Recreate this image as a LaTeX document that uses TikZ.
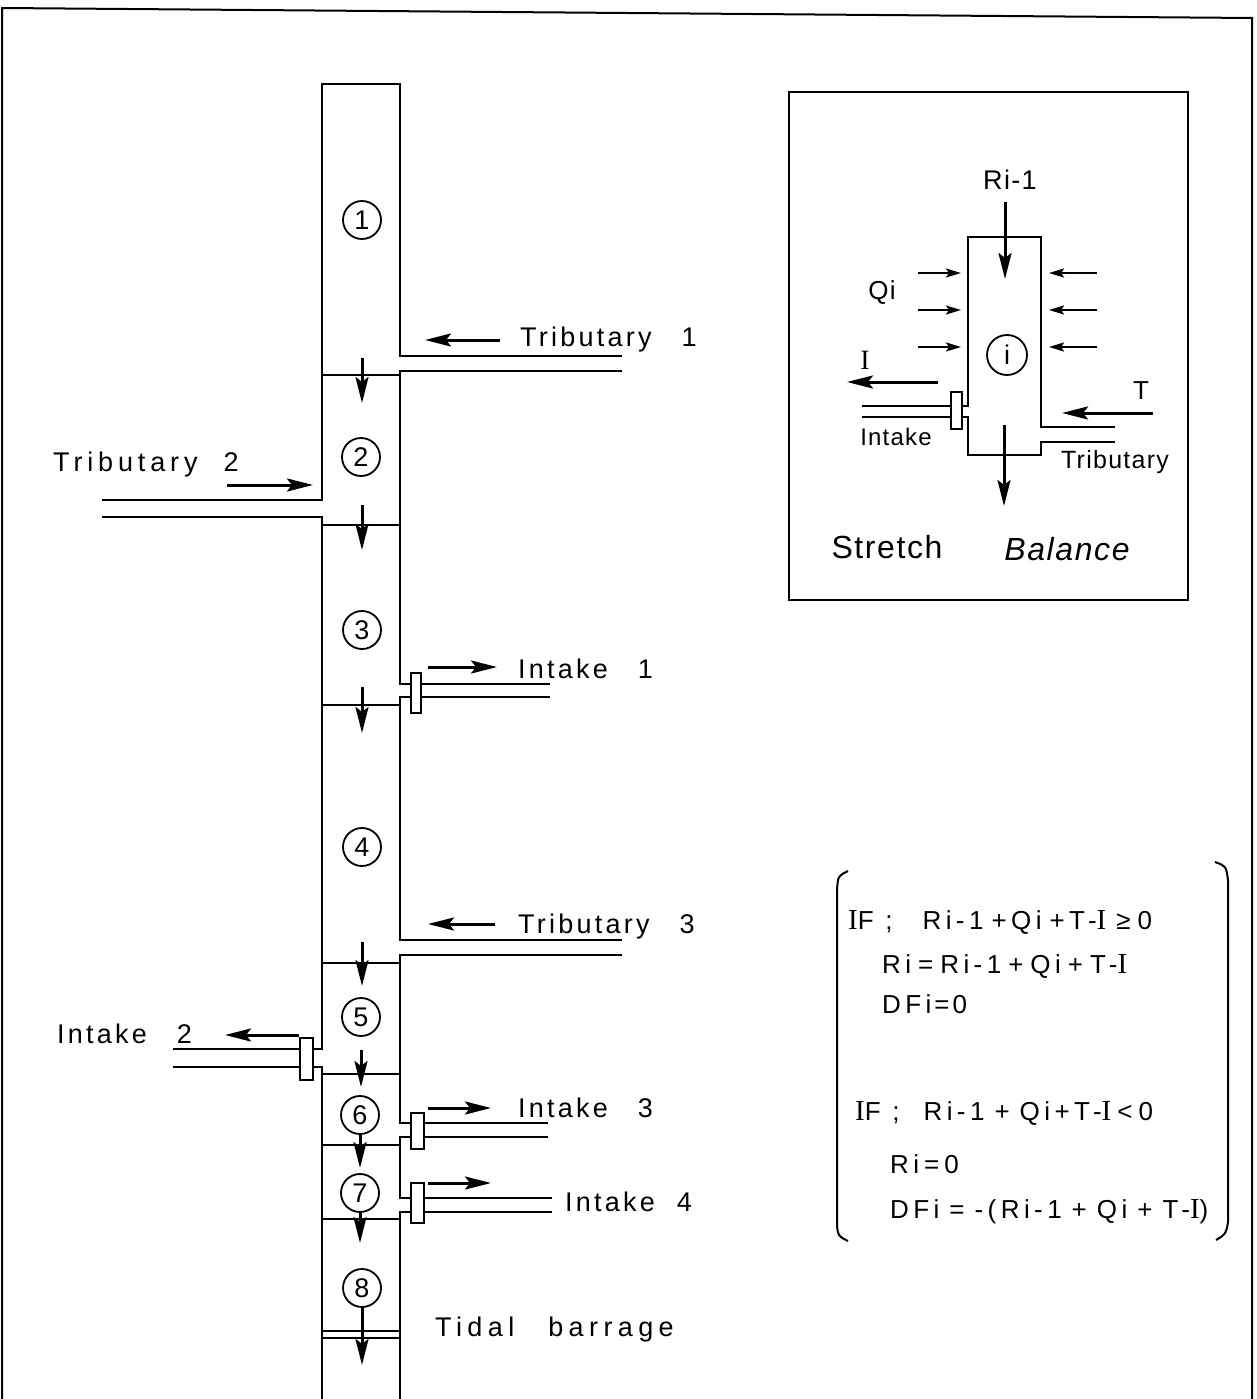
\documentclass[tikz,border=0pt]{standalone}
\usepackage{fontspec}
\setmainfont{Liberation Sans}
\newfontfamily\lblfont{Liberation Sans}[LetterSpace=12]
\newfontfamily\eqfont{Liberation Sans}[LetterSpace=17]
\newfontfamily\insfont{Liberation Sans}[LetterSpace=5]
\newfontfamily\serI{Liberation Serif}
\usetikzlibrary{arrows.meta}
\begin{document}
\begin{tikzpicture}[x=1pt,y=-1pt,
  wall/.style={line width=2.6pt},
  cross/.style={line width=1.9pt},
  flow/.style={line width=3pt,-{Stealth[length=26pt,width=13pt,inset=5pt]}},
  sflow/.style={line width=2.2pt,-{Stealth[length=15pt,width=9pt,inset=3pt]}},
  gate/.style={draw,line width=2.2pt,fill=white,inner sep=0pt},
  num/.style={circle,draw,line width=1.8pt,minimum size=38pt,inner sep=0pt,font=\fontsize{27}{27}\selectfont},
  lbl/.style={font=\fontsize{27}{27}\lblfont,anchor=base west,inner sep=0pt},
  eq/.style={font=\fontsize{26}{26}\eqfont,anchor=base west,inner sep=0pt},
  ins/.style={inner sep=0pt,font=\fontsize{24}{24}\insfont}
]
\useasboundingbox (0,0) rectangle (1256,1399);
% outer frame
\draw[line width=2pt] (2,1399) -- (2,8) -- (1252,18) -- (1252,1399);

% ---------------- main channel ----------------
\draw[wall] (102,500) -- (322,500) -- (322,84) -- (400,84) -- (400,356) -- (622,356);
\draw[wall] (622,371) -- (400,371) -- (400,684) -- (550,684);
\draw[wall] (550,697) -- (400,697) -- (400,940) -- (622,940);
\draw[wall] (622,955) -- (400,955) -- (400,1123) -- (548,1123);
\draw[wall] (548,1137) -- (400,1137) -- (400,1198) -- (552,1198);
\draw[wall] (552,1212) -- (400,1212) -- (400,1399);
\draw[wall] (102,517) -- (322,517) -- (322,1049) -- (173,1049);
\draw[wall] (173,1067) -- (322,1067) -- (322,1399);

% stretch boundaries
\draw[cross] (322,375) -- (400,375);
\draw[cross] (322,525) -- (400,525);
\draw[cross] (322,705) -- (400,705);
\draw[cross] (322,963) -- (400,963);
\draw[cross] (322,1074) -- (400,1074);
\draw[cross] (322,1145) -- (400,1145);
\draw[cross] (322,1219) -- (400,1219);
\draw[cross] (322,1331) -- (400,1331);
\draw[cross] (322,1338) -- (400,1338);

% gates
\node[gate,minimum width=10pt,minimum height=40pt] (g1) at (416,693) {};
\node[gate,minimum width=13pt,minimum height=42pt] (g2) at (306.5,1059) {};
\node[gate,minimum width=13pt,minimum height=36pt] (g3) at (417.5,1131) {};
\node[gate,minimum width=13pt,minimum height=40pt] (g4) at (417.5,1203) {};

% stretch numbers
\node[num] (s1) at (362,220) {1};
\node[num] (s2) at (361,457) {2};
\node[num] (s3) at (362,630) {3};
\node[num] (s4) at (362,847) {4};
\node[num] (s5) at (361,1017) {5};
\node[num] (s6) at (360,1115) {6};
\node[num] (s7) at (360,1193) {7};
\node[num] (s8) at (362,1288) {8};

% down-stream arrows
\coordinate (d1a) at (362,358); \coordinate (d1b) at (362,403);
\coordinate (d2a) at (362,505); \coordinate (d2b) at (362,550);
\coordinate (d3a) at (362,687); \coordinate (d3b) at (362,733);
\coordinate (d4a) at (362,942); \coordinate (d4b) at (362,986);
\coordinate (d5a) at (361,1050); \coordinate (d5b) at (361,1087);
\coordinate (d7b) at (360,1243);
\coordinate (d6b) at (360,1168);
\coordinate (d8b) at (362,1365);
\draw[flow] (d1a) -- (d1b);
\draw[flow] (d2a) -- (d2b);
\draw[flow] (d3a) -- (d3b);
\draw[flow] (d4a) -- (d4b);
\draw[flow] (d5a) -- (d5b);
\draw[flow] (s6.south) -- (d6b);
\draw[flow] (s7.south) -- (d7b);
\draw[flow] (s8.south) -- (d8b);

% lateral arrows
\coordinate (t1a) at (500,340); \coordinate (t1b) at (425,340);
\coordinate (t2a) at (227,485); \coordinate (t2b) at (313,485);
\coordinate (i1a) at (428,667); \coordinate (i1b) at (497,667);
\coordinate (t3a) at (495,924); \coordinate (t3b) at (428,924);
\coordinate (i2a) at (299,1035); \coordinate (i2b) at (225,1035);
\coordinate (i3a) at (428,1108); \coordinate (i3b) at (491,1108);
\coordinate (i4a) at (428,1183); \coordinate (i4b) at (491,1183);
\draw[flow] (t1a) -- (t1b);
\draw[flow] (t2a) -- (t2b);
\draw[flow] (i1a) -- (i1b);
\draw[flow] (t3a) -- (t3b);
\draw[flow] (i2a) -- (i2b);
\draw[flow] (i3a) -- (i3b);
\draw[flow] (i4a) -- (i4b);

% labels
\node[lbl] (lt1) at (520,346) {Tributary\hspace{30pt}1};
\node[lbl] (lt2) at (53,471) {\addfontfeature{LetterSpace=18}Tributary\hspace{26pt}2};
\node[lbl] (li1) at (518,678) {Intake\hspace{30pt}1};
\node[lbl] (lt3) at (518,933) {Tributary\hspace{30pt}3};
\node[lbl] (li2) at (57,1043) {Intake\hspace{30pt}2};
\node[lbl] (li3) at (518,1117) {Intake\hspace{30pt}3};
\node[lbl] (li4) at (565,1211) {Intake\hspace{22pt}4};
\node[lbl] (ltb) at (435,1336) {\addfontfeature{LetterSpace=20}Tidal\hspace{34pt}barrage};

% ---------------- inset: stretch balance ----------------
\draw[line width=2pt] (789,92) rectangle (1188,600);
\draw[wall] (862,406) -- (968,406) -- (968,237) -- (1041,237) -- (1041,427) -- (1115,427);
\draw[wall] (1115,442) -- (1041,442) -- (1041,455) -- (968,455) -- (968,417) -- (862,417);
\node[gate,minimum width=11pt,minimum height=37pt] (gi) at (956.5,410.5) {};
\node[num,minimum size=40pt] (si) at (1007,355) {i};

\node[ins,font=\fontsize{27}{27}\insfont] (lr) at (1010,180) {Ri-1};
\coordinate (ra) at (1005,202); \coordinate (rb) at (1005,279);
\draw[flow] (ra) -- (rb);
\coordinate (oa) at (1004,425); \coordinate (ob) at (1004,506);
\draw[flow] (oa) -- (ob);
\coordinate (ia) at (938,382); \coordinate (ib) at (847,382);
\draw[flow] (ia) -- (ib);
\coordinate (ta) at (1153,413); \coordinate (tb) at (1062,413);
\draw[flow] (ta) -- (tb);
\foreach \yy/\k in {273/1,310/2,347/3}{
  \coordinate (ql\k a) at (918,\yy); \coordinate (ql\k b) at (961,\yy);
  \coordinate (qr\k a) at (1097,\yy); \coordinate (qr\k b) at (1049,\yy);
  \draw[sflow] (ql\k a) -- (ql\k b);
  \draw[sflow] (qr\k a) -- (qr\k b);
}
\node[ins,font=\fontsize{26}{26}\insfont] (lq) at (882,293) {Qi};
\node[ins,font=\fontsize{28}{28}\serI] (li) at (865,360) {I};
\node[ins,font=\fontsize{26}{26}\insfont] (lT) at (1141,391) {T};
\node[ins,font=\fontsize{24}{24}\insfont] (lin) at (896,437) {Intake};
\node[ins,font=\fontsize{25}{25}\insfont] (ltr) at (1115,462) {Tributary};
\node[ins,font=\fontsize{32}{32}\insfont] (lst) at (887,547) {Stretch};
\node[ins,font=\fontsize{32}{32}\insfont\itshape] (lba) at (1067,549) {Balance};

% ---------------- equations ----------------
\draw[line width=2pt] (848,871) .. controls (838,876) .. (837,890) -- (837,1225) .. controls (838,1236) .. (848,1241);
\draw[line width=2pt] (1215,862) .. controls (1226,866) .. (1228,880) -- (1228,1222) .. controls (1226,1234) .. (1216,1240);
\node[eq] (e1) at (848,929) {{\fontsize{29}{29}\serI I}F ;\hspace{30pt}Ri-1\hspace{8pt}+Qi\hspace{8pt}+T-{\fontsize{29}{29}\serI I}\hspace{10pt}≥\hspace{7pt}0};
\node[eq] (e2) at (882,973) {Ri\hspace{7pt}=\hspace{7pt}Ri-1\hspace{7pt}+\hspace{7pt}Qi\hspace{7pt}+\hspace{7pt}T-{\fontsize{29}{29}\serI I}};
\node[eq] (e3) at (882,1013) {DFi\hspace{3pt}=\hspace{3pt}0};
\node[eq] (e4) at (855,1120) {{\fontsize{29}{29}\serI I}F ;\hspace{24pt}Ri-1\hspace{10pt}+\hspace{10pt}Qi+T-{\fontsize{29}{29}\serI I}\hspace{6pt}<\hspace{6pt}0};
\node[eq] (e5) at (890,1173) {Ri\hspace{5pt}=\hspace{5pt}0};
\node[eq] (e6) at (890,1218) {DFi\hspace{10pt}=\hspace{10pt}-(Ri-1\hspace{10pt}+\hspace{10pt}Qi\hspace{10pt}+\hspace{10pt}T-{\fontsize{29}{29}\serI I})};
\end{tikzpicture}
\end{document}
